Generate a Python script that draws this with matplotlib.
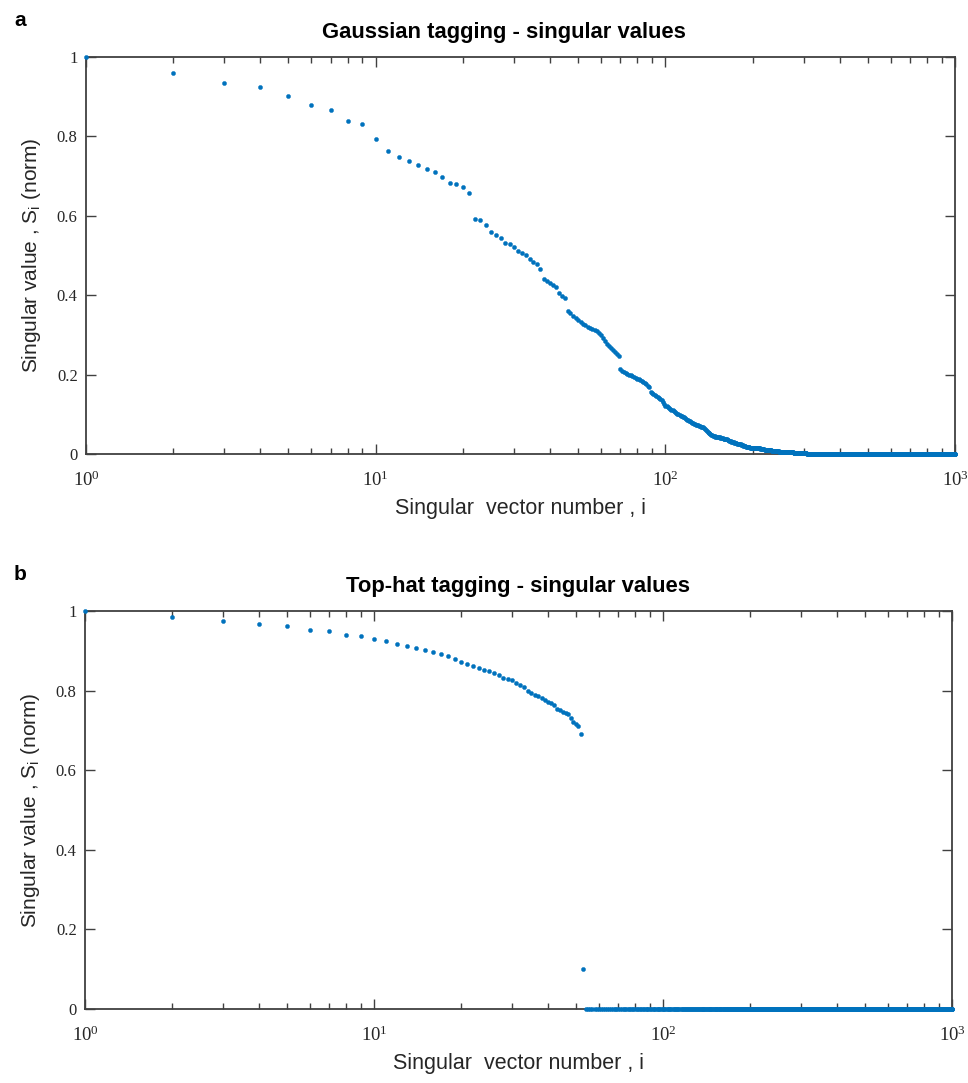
import matplotlib
matplotlib.use("Agg")
import matplotlib.pyplot as plt
import numpy as np

# ---------------- data ----------------
n_vectors = 1000

# Gaussian tagging: singular values for i = 1 .. 320, remaining ones read as 0
gauss_1_46 = [1.000, 0.960, 0.934, 0.924, 0.901, 0.878, 0.867, 0.840, 0.831, 0.793,
              0.763, 0.748, 0.739, 0.728, 0.718, 0.710, 0.698, 0.683, 0.680, 0.672,
              0.658, 0.592, 0.589, 0.577, 0.559, 0.551, 0.543, 0.532, 0.528, 0.521,
              0.511, 0.507, 0.501, 0.491, 0.483, 0.478, 0.467, 0.441, 0.436, 0.431,
              0.425, 0.420, 0.406, 0.398, 0.394, 0.360]
gauss_47_69 = [0.354, 0.348, 0.342, 0.337, 0.332, 0.328, 0.325, 0.321, 0.318, 0.315,
               0.312, 0.309, 0.306, 0.301, 0.291, 0.284, 0.278, 0.272, 0.267, 0.262,
               0.257, 0.253, 0.248]
gauss_70_100 = [0.213, 0.210, 0.207, 0.204, 0.202, 0.200, 0.198, 0.196, 0.194, 0.192,
                0.190, 0.188, 0.186, 0.184, 0.182, 0.179, 0.176, 0.172, 0.168, 0.156,
                0.153, 0.150, 0.148, 0.146, 0.144, 0.141, 0.138, 0.136, 0.131, 0.126,
                0.122]
gauss_101_200 = [0.120, 0.118, 0.116, 0.114, 0.112, 0.110, 0.108, 0.106, 0.104, 0.102,
                 0.100, 0.098, 0.096, 0.095, 0.094, 0.092, 0.090, 0.088, 0.086, 0.085,
                 0.083, 0.082, 0.080, 0.078, 0.077, 0.076, 0.075, 0.074, 0.073, 0.072,
                 0.071, 0.070, 0.069, 0.068, 0.067, 0.065, 0.063, 0.061, 0.058, 0.056,
                 0.054, 0.052, 0.050, 0.049, 0.047, 0.046, 0.045, 0.045, 0.044, 0.044,
                 0.043, 0.043, 0.042, 0.042, 0.041, 0.041, 0.040, 0.040, 0.039, 0.039,
                 0.038, 0.037, 0.037, 0.036, 0.035, 0.034, 0.033, 0.032, 0.031, 0.030,
                 0.030, 0.029, 0.028, 0.028, 0.027, 0.027, 0.026, 0.026, 0.025, 0.025,
                 0.024, 0.024, 0.023, 0.022, 0.022, 0.021, 0.020, 0.020, 0.019, 0.018,
                 0.018, 0.018, 0.017, 0.017, 0.017, 0.016, 0.016, 0.016, 0.015, 0.015]
gauss_201_320 = [0.015, 0.015, 0.015, 0.014, 0.014, 0.014, 0.014, 0.014, 0.014, 0.014,
                 0.014, 0.014, 0.013, 0.013, 0.013, 0.012, 0.012, 0.012, 0.012, 0.011,
                 0.011, 0.011, 0.011, 0.010, 0.010, 0.010, 0.010, 0.009, 0.009, 0.009,
                 0.009, 0.009, 0.008, 0.008, 0.008, 0.008, 0.008, 0.008, 0.007, 0.007,
                 0.007, 0.007, 0.007, 0.007, 0.007, 0.007, 0.006, 0.006, 0.006, 0.006,
                 0.006, 0.006, 0.006, 0.006, 0.006, 0.006, 0.005, 0.005, 0.005, 0.005,
                 0.005, 0.005, 0.005, 0.005, 0.005, 0.005, 0.004, 0.004, 0.004, 0.004,
                 0.004, 0.004, 0.004, 0.004, 0.004, 0.004, 0.003, 0.003, 0.003, 0.003,
                 0.003, 0.003, 0.003, 0.003, 0.003, 0.003, 0.003, 0.003, 0.002, 0.002,
                 0.002, 0.002, 0.002, 0.002, 0.002, 0.002, 0.002, 0.002, 0.002, 0.002,
                 0.002, 0.002, 0.002, 0.002, 0.002, 0.002, 0.002, 0.001, 0.001, 0.001,
                 0.001, 0.001, 0.001, 0.001, 0.001, 0.001, 0.001, 0.001, 0.001, 0.001]
gauss_nonzero = gauss_1_46 + gauss_47_69 + gauss_70_100 + gauss_101_200 + gauss_201_320
gauss_values = gauss_nonzero + [0.0] * (n_vectors - len(gauss_nonzero))

# Top-hat tagging: singular values for i = 1 .. 53, remaining ones read as 0
tophat_nonzero = [1.000, 0.984, 0.974, 0.967, 0.962, 0.953, 0.950, 0.940, 0.937, 0.929,
                  0.924, 0.917, 0.911, 0.907, 0.901, 0.897, 0.892, 0.886, 0.880, 0.873,
                  0.866, 0.861, 0.858, 0.853, 0.848, 0.844, 0.838, 0.832, 0.829, 0.826,
                  0.818, 0.813, 0.809, 0.800, 0.794, 0.789, 0.786, 0.781, 0.776, 0.772,
                  0.768, 0.764, 0.755, 0.751, 0.747, 0.744, 0.741, 0.731, 0.722, 0.715,
                  0.711, 0.691, 0.100]
tophat_values = tophat_nonzero + [0.0] * (n_vectors - len(tophat_nonzero))

vector_number = list(range(1, n_vectors + 1))

titles = ["Gaussian tagging - singular values", "Top-hat tagging - singular values"]
panel_letters = ["a", "b"]
y_ticks = [0, 0.2, 0.4, 0.6, 0.8, 1]
y_tick_labels = ["0", "0.2", "0.4", "0.6", "0.8", "1"]
x_ticks = [1, 10, 100, 1000]
x_tick_labels = [r"$\mathregular{10^{0}}$", r"$\mathregular{10^{1}}$",
                 r"$\mathregular{10^{2}}$", r"$\mathregular{10^{3}}$"]

# ---------------- figure ----------------
W, H = 968, 1083
fig = plt.figure(figsize=(W / 100, H / 100), dpi=100)

marker_color = "#0072BD"
axis_color = "#404040"
text_color = "#262626"

# axes rectangles in pixels: (left, top, right, bottom)
rects = [(86, 57, 955, 454), (85, 611, 952, 1009)]
title_x = [0.481, 0.5]
series = [gauss_values, tophat_values]

for k, (rect, vals) in enumerate(zip(rects, series)):
    l, t, r, b = rect
    ax = fig.add_axes([l / W, 1 - b / H, (r - l) / W, (b - t) / H])
    ax.plot(vector_number, vals, linestyle="none", marker="o", markersize=3.0,
            markerfacecolor=marker_color, markeredgecolor=marker_color,
            markeredgewidth=0.3, clip_on=False, zorder=5)
    ax.set_xscale("log")
    ax.set_xlim(1, 1000)
    ax.set_ylim(0, 1)
    ax.set_xticks(x_ticks)
    ax.set_xticklabels(x_tick_labels, fontsize=13.5, family="Liberation Serif",
                       color=text_color)
    ax.set_yticks(y_ticks)
    ax.set_yticklabels(y_tick_labels, fontsize=12, family="Liberation Serif",
                       color=text_color)
    ax.tick_params(axis="both", which="both", direction="in", top=True, right=True,
                   color=axis_color, width=1.0)
    ax.tick_params(axis="x", which="major", length=7, pad=12)
    ax.tick_params(axis="x", which="minor", length=4)
    ax.tick_params(axis="y", which="major", length=7, pad=6)
    for sp in ax.spines.values():
        sp.set_color(axis_color)
        sp.set_linewidth(1.3)
    ax.set_xlabel("Singular  vector number , i", fontsize=15.5,
                  family="Liberation Sans", color=text_color, labelpad=6)
    ax.set_ylabel(r"Singular value , S$_\mathregular{i}$ (norm)", fontsize=15,
                  family="Liberation Sans", color=text_color, labelpad=10)
    ttl = ax.set_title(titles[k], fontsize=15.8, fontweight="bold",
                       family="Liberation Sans", color="black", pad=14)
    ttl.set_x(title_x[k])
    fig.text(14 / W, 1 - (20 + (b - t + 157) * k) / H, panel_letters[k],
             fontsize=15, fontweight="bold", family="Liberation Sans",
             ha="left", va="center")

fig.savefig("out.png", dpi=100)
